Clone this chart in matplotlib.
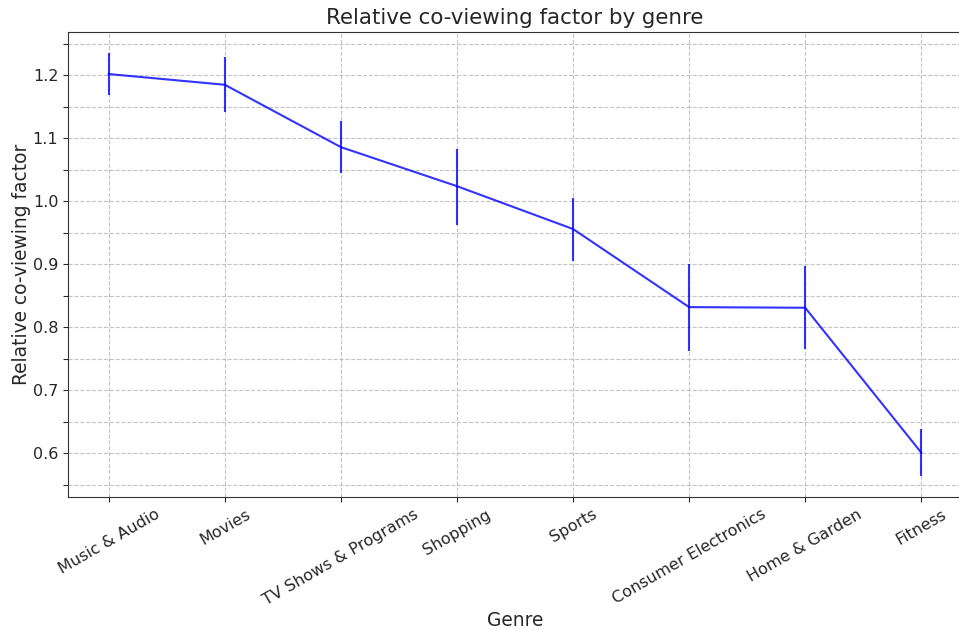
import matplotlib
matplotlib.use("Agg")
import matplotlib.pyplot as plt
from matplotlib.ticker import MultipleLocator

genres = ["Music & Audio", "Movies", "TV Shows & Programs", "Shopping",
          "Sports", "Consumer Electronics", "Home & Garden", "Fitness"]
factor = [1.202, 1.185, 1.086, 1.024, 0.956, 0.832, 0.831, 0.601]
err_low = [0.034, 0.043, 0.041, 0.061, 0.050, 0.069, 0.065, 0.037]
err_high = [0.033, 0.044, 0.042, 0.059, 0.049, 0.069, 0.066, 0.038]

text_color = "#262626"
plt.rcParams.update({
    "text.color": text_color,
    "axes.labelcolor": text_color,
    "xtick.color": text_color,
    "ytick.color": text_color,
    "axes.edgecolor": "#333333",
})

fig = plt.figure(figsize=(9.59, 6.3), dpi=100)
ax = fig.add_axes([0.071, 0.211, 0.932, 0.738])

x = list(range(len(genres)))
ax.errorbar(x, factor, yerr=[err_low, err_high], color="blue", alpha=0.8,
            linewidth=1.5, elinewidth=1.5)

ax.set_xticks(x)
ax.set_xticklabels(genres, rotation=30, fontsize=11.5)
ax.yaxis.set_major_locator(MultipleLocator(0.1))
ax.yaxis.set_minor_locator(MultipleLocator(0.05))
ax.tick_params(axis="y", labelsize=11.5)
ax.tick_params(axis="y", which="minor", length=3.5, width=0.8)
ax.grid(True, which="both", linestyle="--", color="#b0b0b0", alpha=0.75, linewidth=0.8)

ax.set_title("Relative co-viewing factor by genre", fontsize=15.4)
ax.set_xlabel("Genre", fontsize=13.4, labelpad=2)
ax.set_ylabel("Relative co-viewing factor", fontsize=13.4, labelpad=1)

fig.savefig("out.png", dpi=100)
